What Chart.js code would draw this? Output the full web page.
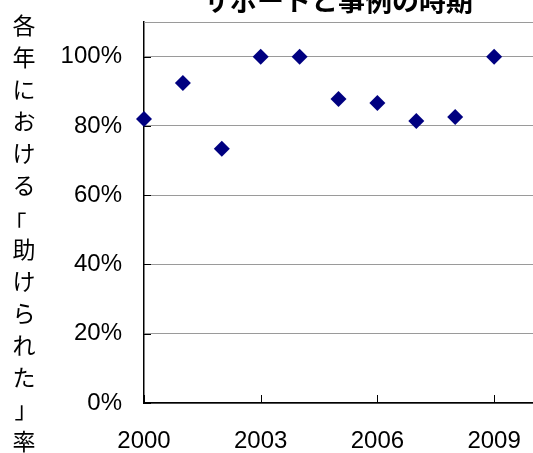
<!DOCTYPE html>
<html>
<head>
<meta charset="utf-8">
<script src="https://cdn.jsdelivr.net/npm/chart.js@4"></script>
<style>
  body { margin: 0; background: white; }
  #wrap { width: 533px; height: 453px; }
</style>
</head>
<body>
<div id="wrap"><canvas id="chart" width="533" height="453"></canvas></div>
<script>
const chartTitle = "サポートと事例の時期";
const yTitle = "各年における「助けられた」率";
const years = [2000, 2001, 2002, 2003, 2004, 2005, 2006, 2007, 2008, 2009];
const rates = [82.0, 92.4, 73.4, 100, 100, 87.8, 86.6, 81.4, 82.6, 100];
const xTicks = [2000, 2003, 2006, 2009];
const yTicks = [0, 20, 40, 60, 80, 100];

const latin = "'Liberation Sans', Arial, sans-serif";
const cjk = "'Noto Sans CJK JP', sans-serif";

// title (top half is cut off in the original) and the stacked y axis title
const textPlugin = {
  id: "texts",
  afterDraw(chart) {
    const c = chart.ctx;
    c.save();
    c.fillStyle = "#000";
    c.textAlign = "center";
    c.textBaseline = "middle";
    c.font = "bold 27px " + cjk;
    c.fillText(chartTitle, 338, 1);
    c.font = "23px " + cjk;
    Array.from(yTitle).forEach((ch, i) => {
      // brackets sit off-centre in the horizontal glyphs, nudge them to the middle
      const dx = ch === "「" ? -9 : (ch === "」" ? 2 : 0);
      const dy = ch === "「" ? 6 : 0;
      c.fillText(ch, 24 + dx, 25 + i * 32 + dy);
    });
    c.restore();
  }
};

// plot top border + short tick marks pointing into the plot
const tickPlugin = {
  id: "innerTicks",
  beforeDatasetsDraw(chart) {
    const c = chart.ctx;
    const x = chart.scales.x, y = chart.scales.y;
    const a = chart.chartArea;
    c.save();
    c.strokeStyle = "#9a9a9a";
    c.lineWidth = 1;
    c.beginPath();
    c.moveTo(a.left, Math.round(a.top) + 0.5);
    c.lineTo(a.right, Math.round(a.top) + 0.5);
    c.stroke();
    c.strokeStyle = "#000";
    yTicks.forEach(v => {
      const py = Math.round(y.getPixelForValue(v)) + 0.5;
      c.beginPath();
      c.moveTo(a.left, py);
      c.lineTo(a.left + 7, py);
      c.stroke();
    });
    xTicks.forEach(v => {
      const px = Math.round(x.getPixelForValue(v)) + 0.5;
      c.beginPath();
      c.moveTo(px, a.bottom);
      c.lineTo(px, a.bottom - 8);
      c.stroke();
    });
    c.restore();
  }
};

const ctx = document.getElementById("chart").getContext("2d");
new Chart(ctx, {
  type: "scatter",
  data: {
    datasets: [{
      data: years.map((yr, i) => ({ x: yr, y: rates[i] })),
      pointStyle: "rectRot",
      pointRadius: 8,
      pointHoverRadius: 8,
      backgroundColor: "#000080",
      borderColor: "#000080",
      borderWidth: 0,
      clip: false
    }]
  },
  options: {
    responsive: false,
    animation: false,
    layout: { autoPadding: false, padding: { left: 50, top: 22, right: 0, bottom: 0 } },
    plugins: { legend: { display: false }, tooltip: { enabled: false } },
    scales: {
      x: {
        type: "linear",
        min: 2000,
        max: 2010,
        afterBuildTicks: s => { s.ticks = xTicks.map(v => ({ value: v })); },
        afterFit: s => { s.height = 50; s.paddingLeft = 0; s.paddingRight = 0; },
        grid: { display: false, drawTicks: false },
        border: { color: "#000", width: 1.5 },
        ticks: {
          padding: 24,
          maxRotation: 0,
          color: "#000",
          font: { family: latin, size: 24 },
          callback: v => String(v)
        }
      },
      y: {
        min: 0,
        max: 110,
        afterBuildTicks: s => { s.ticks = yTicks.map(v => ({ value: v })); },
        afterFit: s => { s.width = 94; s.paddingTop = 0; s.paddingBottom = 0; },
        grid: { color: "#9a9a9a", lineWidth: 1, drawTicks: false },
        border: { color: "#000", width: 1.5 },
        ticks: {
          padding: 22,
          color: "#000",
          font: { family: latin, size: 24 },
          callback: v => v + "%"
        }
      }
    }
  },
  plugins: [textPlugin, tickPlugin]
});
</script>
</body>
</html>
